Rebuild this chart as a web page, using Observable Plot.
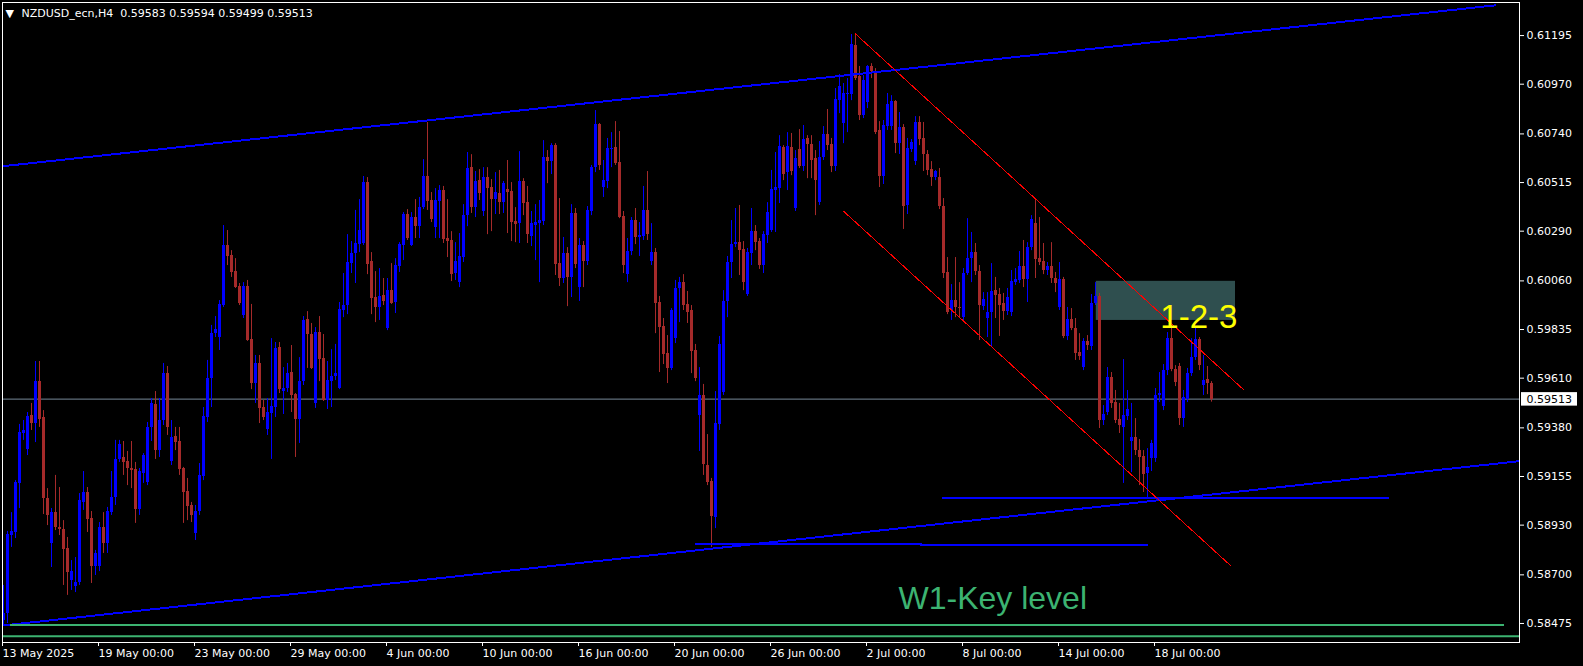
<!DOCTYPE html>
<html><head><meta charset="utf-8">
<script src="https://cdn.jsdelivr.net/npm/d3@7"></script>
<script src="https://cdn.jsdelivr.net/npm/@observablehq/plot@0.6"></script>
<style>
html,body{margin:0;padding:0;background:#000;}
#chart{width:1583px;height:666px;overflow:hidden;}
</style></head><body><div id="chart"></div>
<script>
const symbolTitle = "NZDUSD_ecn,H4  0.59583 0.59594 0.59499 0.59513";

const opens = [0.58489,0.58521,0.58882,0.58896,0.59123,0.59354,0.59280,0.59437,0.59400,0.59594,0.59428,0.59053,0.58845,0.58988,0.58919,0.58910,0.58822,0.58674,0.58646,0.58665,
0.59035,0.59081,0.58961,0.58739,0.58739,0.58919,0.58845,0.58988,0.59058,0.59234,0.59243,0.59224,0.59192,0.59187,0.59002,0.59169,0.59127,0.59382,0.59488,0.59275,
0.59414,0.59631,0.59224,0.59340,0.59317,0.59192,0.59086,0.59021,0.58891,0.58993,0.59155,0.59428,0.59608,0.59816,0.59798,0.59946,0.60224,0.60177,0.60103,0.60034,
0.59900,0.60034,0.59789,0.59585,0.59678,0.59474,0.59372,0.59446,0.59474,0.59752,0.59548,0.59562,0.59636,0.59534,0.59419,0.59594,0.59881,0.59812,0.59493,0.59821,
0.59701,0.59507,0.59594,0.59618,0.59562,0.59923,0.59946,0.60140,0.60187,0.60228,0.60233,0.60515,0.60150,0.59983,0.59937,0.59992,0.59840,0.60015,0.59960,0.60126,
0.60224,0.60367,0.60224,0.60353,0.60311,0.60399,0.60543,0.60432,0.60307,0.60427,0.60478,0.60256,0.60247,0.60094,0.60052,0.60168,0.60362,0.60584,0.60399,0.60524,
0.60381,0.60538,0.60492,0.60436,0.60464,0.60422,0.60483,0.60473,0.60335,0.60325,0.60520,0.60422,0.60265,0.60316,0.60325,0.60335,0.60631,0.60612,0.60686,0.60140,
0.60071,0.60187,0.60076,0.60372,0.60029,0.60224,0.60150,0.60381,0.60584,0.60783,0.60492,0.60520,0.60668,0.60677,0.60608,0.60358,0.60089,0.60196,0.60339,0.60261,
0.60265,0.60386,0.60150,0.60191,0.59960,0.59849,0.59724,0.59655,0.59793,0.60025,0.60052,0.59951,0.59923,0.59738,0.59437,0.59530,0.59206,0.59132,0.58965,0.59396,
0.59544,0.59965,0.60145,0.60228,0.60237,0.60205,0.59997,0.60187,0.60288,0.60242,0.60131,0.60270,0.60293,0.60478,0.60487,0.60677,0.60561,0.60677,0.60395,0.60668,
0.60589,0.60719,0.60691,0.60626,0.60422,0.60631,0.60737,0.60691,0.60589,0.60894,0.60788,0.60922,0.60922,0.61149,0.61005,0.60825,0.60885,0.61052,0.61024,0.60756,
0.60543,0.60774,0.60774,0.60890,0.60695,0.60769,0.60409,0.60668,0.60612,0.60793,0.60719,0.60645,0.60575,0.60538,0.60538,0.60404,0.60099,0.59923,0.59969,0.59937,
0.59890,0.60094,0.60163,0.60191,0.60103,0.59941,0.59886,0.59914,0.60015,0.59997,0.59955,0.59918,0.59914,0.60052,0.60062,0.60126,0.60066,0.60214,0.60325,0.60163,
0.60150,0.60108,0.60126,0.60071,0.59937,0.60066,0.59803,0.59881,0.59839,0.59729,0.59659,0.59780,0.59756,0.59955,0.59988,0.59414,0.59451,0.59613,0.59497,0.59419,
0.59382,0.59433,0.59317,0.59335,0.59275,0.59248,0.59169,0.59238,0.59238,0.59530,0.59479,0.59645,0.59793,0.59650,0.59664,0.59423,0.59511,0.59631,0.59705,0.59789,
0.59576,0.59604,0.59583];

const highs = [0.58651,0.58901,0.58988,0.59136,0.59396,0.59414,0.59451,0.59493,0.59687,0.59687,0.59460,0.59099,0.59007,0.59160,0.59104,0.58951,0.58873,0.58766,0.58780,0.59076,
0.59178,0.59104,0.58993,0.58813,0.58942,0.58988,0.59012,0.59178,0.59322,0.59322,0.59317,0.59271,0.59317,0.59220,0.59192,0.59261,0.59405,0.59516,0.59548,0.59516,
0.59678,0.59664,0.59414,0.59382,0.59382,0.59197,0.59146,0.59035,0.59021,0.59215,0.59474,0.59692,0.59854,0.59895,0.59969,0.60316,0.60293,0.60200,0.60163,0.60048,
0.60052,0.60062,0.59951,0.59715,0.59715,0.59507,0.59516,0.59793,0.59775,0.59775,0.59659,0.59678,0.59761,0.59539,0.59705,0.59895,0.59918,0.59863,0.59844,0.59895,
0.59812,0.59687,0.59742,0.59766,0.59960,0.60094,0.60274,0.60242,0.60386,0.60436,0.60543,0.60538,0.60191,0.60103,0.60117,0.60071,0.60071,0.60140,0.60163,0.60237,
0.60376,0.60390,0.60376,0.60436,0.60446,0.60621,0.60793,0.60469,0.60487,0.60501,0.60497,0.60436,0.60288,0.60237,0.60279,0.60413,0.60654,0.60644,0.60566,0.60575,
0.60584,0.60584,0.60529,0.60561,0.60571,0.60520,0.60617,0.60515,0.60399,0.60658,0.60533,0.60497,0.60381,0.60413,0.60432,0.60709,0.60663,0.60695,0.60695,0.60441,
0.60261,0.60214,0.60413,0.60395,0.60256,0.60242,0.60404,0.60594,0.60848,0.60788,0.60617,0.60719,0.60746,0.60797,0.60751,0.60381,0.60256,0.60353,0.60395,0.60330,
0.60497,0.60566,0.60325,0.60210,0.59988,0.59886,0.59807,0.59932,0.60062,0.60076,0.60089,0.60011,0.59946,0.59766,0.59659,0.59581,0.59349,0.59146,0.59548,0.59803,
0.60015,0.60173,0.60339,0.60395,0.60409,0.60242,0.60210,0.60395,0.60316,0.60256,0.60288,0.60422,0.60571,0.60654,0.60732,0.60686,0.60746,0.60742,0.60663,0.60760,
0.60779,0.60732,0.60732,0.60663,0.60705,0.60774,0.60853,0.60719,0.60950,0.61015,0.60973,0.60996,0.61200,0.61204,0.61052,0.61010,0.61056,0.61065,0.61042,0.60797,
0.60802,0.60927,0.60917,0.60894,0.60839,0.60783,0.60719,0.60714,0.60820,0.60820,0.60793,0.60663,0.60612,0.60571,0.60580,0.60441,0.60168,0.60043,0.60168,0.60052,
0.60117,0.60348,0.60284,0.60233,0.60131,0.60006,0.60006,0.60140,0.60076,0.60025,0.60002,0.60025,0.60108,0.60117,0.60196,0.60247,0.60237,0.60362,0.60432,0.60353,
0.60233,0.60145,0.60237,0.60099,0.60145,0.60076,0.59937,0.59932,0.59886,0.59816,0.59793,0.59807,0.59997,0.60052,0.60002,0.59483,0.59659,0.59636,0.59553,0.59493,
0.59696,0.59553,0.59493,0.59423,0.59326,0.59275,0.59284,0.59322,0.59562,0.59636,0.59673,0.59821,0.59854,0.59668,0.59678,0.59553,0.59655,0.59793,0.59844,0.59798,
0.59715,0.59664,0.59594];

const lows = [0.58466,0.58475,0.58827,0.58868,0.59007,0.59322,0.59252,0.59368,0.59312,0.59382,0.58979,0.58928,0.58734,0.58905,0.58882,0.58651,0.58605,0.58628,0.58618,0.58651,
0.58998,0.58896,0.58660,0.58697,0.58715,0.58799,0.58799,0.58975,0.59021,0.59220,0.59160,0.59113,0.59099,0.58938,0.58975,0.59123,0.59113,0.59317,0.59234,0.59243,
0.59391,0.59345,0.59206,0.59275,0.59160,0.58938,0.58951,0.58942,0.58859,0.58975,0.59136,0.59405,0.59474,0.59798,0.59738,0.59937,0.60131,0.60076,0.60025,0.59946,
0.59886,0.59780,0.59557,0.59493,0.59400,0.59414,0.59345,0.59234,0.59428,0.59539,0.59442,0.59544,0.59451,0.59243,0.59308,0.59576,0.59655,0.59650,0.59470,0.59594,
0.59502,0.59465,0.59474,0.59599,0.59557,0.59890,0.59904,0.60094,0.60048,0.60191,0.60224,0.60089,0.59904,0.59867,0.59877,0.59946,0.59830,0.59951,0.59909,0.60099,
0.60154,0.60247,0.60219,0.60256,0.60256,0.60390,0.60386,0.60330,0.60256,0.60256,0.60233,0.60168,0.60057,0.60062,0.60029,0.60145,0.60311,0.60372,0.60353,0.60432,
0.60358,0.60274,0.60288,0.60367,0.60367,0.60372,0.60279,0.60242,0.60237,0.60233,0.60362,0.60233,0.60219,0.60154,0.60052,0.60316,0.60510,0.60552,0.60085,0.60034,
0.60048,0.59941,0.59983,0.60117,0.59965,0.60029,0.60131,0.60362,0.60561,0.60571,0.60446,0.60487,0.60584,0.60594,0.60348,0.60094,0.60052,0.60177,0.60228,0.60173,
0.60247,0.60247,0.60131,0.59816,0.59636,0.59673,0.59585,0.59645,0.59770,0.59867,0.59923,0.59863,0.59631,0.59594,0.59271,0.59160,0.59113,0.58827,0.58914,0.59368,
0.59530,0.59890,0.60071,0.60214,0.60085,0.60015,0.59988,0.60131,0.60200,0.60113,0.60094,0.60233,0.60284,0.60284,0.60418,0.60524,0.60478,0.60547,0.60381,0.60580,
0.60566,0.60533,0.60533,0.60362,0.60409,0.60617,0.60663,0.60561,0.60566,0.60834,0.60695,0.60746,0.60894,0.60987,0.60802,0.60811,0.60857,0.60996,0.60737,0.60492,
0.60506,0.60756,0.60756,0.60649,0.60645,0.60298,0.60367,0.60654,0.60594,0.60686,0.60566,0.60547,0.60497,0.60524,0.60390,0.60071,0.59904,0.59877,0.59890,0.59890,
0.59877,0.60085,0.60052,0.60085,0.59784,0.59923,0.59798,0.59752,0.59886,0.59803,0.59877,0.59900,0.59895,0.60039,0.60048,0.60029,0.59960,0.60200,0.60071,0.60131,
0.60089,0.60085,0.60048,0.60006,0.59923,0.59793,0.59784,0.59830,0.59692,0.59692,0.59645,0.59738,0.59738,0.59946,0.59377,0.59391,0.59437,0.59470,0.59400,0.59354,
0.59123,0.59414,0.59173,0.59252,0.59113,0.59081,0.59058,0.59178,0.59220,0.59497,0.59460,0.59622,0.59640,0.59571,0.59391,0.59382,0.59497,0.59618,0.59692,0.59645,
0.59530,0.59534,0.59499];

const closes = [0.58521,0.58887,0.58901,0.59127,0.59358,0.59368,0.59433,0.59400,0.59594,0.59419,0.59053,0.58975,0.58988,0.58919,0.58910,0.58817,0.58711,0.58715,0.58665,0.59044,
0.59081,0.58956,0.58739,0.58799,0.58919,0.58845,0.58993,0.59058,0.59234,0.59303,0.59220,0.59192,0.59183,0.59002,0.59178,0.59252,0.59382,0.59493,0.59275,0.59414,
0.59631,0.59382,0.59335,0.59312,0.59187,0.59081,0.59016,0.58975,0.58993,0.59160,0.59433,0.59608,0.59816,0.59835,0.59951,0.60224,0.60173,0.60099,0.60029,0.59955,
0.60034,0.59784,0.59585,0.59678,0.59470,0.59428,0.59451,0.59479,0.59747,0.59557,0.59562,0.59631,0.59530,0.59419,0.59594,0.59877,0.59812,0.59655,0.59821,0.59696,
0.59507,0.59599,0.59618,0.59631,0.59928,0.59946,0.60145,0.60187,0.60233,0.60293,0.60515,0.60136,0.59978,0.59937,0.59988,0.59965,0.60015,0.59955,0.60131,0.60228,
0.60367,0.60256,0.60353,0.60311,0.60399,0.60543,0.60427,0.60344,0.60432,0.60478,0.60251,0.60242,0.60089,0.60150,0.60173,0.60362,0.60580,0.60399,0.60520,0.60464,
0.60538,0.60487,0.60436,0.60469,0.60422,0.60510,0.60469,0.60330,0.60321,0.60520,0.60418,0.60274,0.60325,0.60330,0.60339,0.60631,0.60612,0.60686,0.60136,0.60071,
0.60187,0.60076,0.60372,0.60136,0.60224,0.60150,0.60386,0.60584,0.60783,0.60594,0.60524,0.60672,0.60672,0.60603,0.60353,0.60131,0.60196,0.60339,0.60261,0.60270,
0.60386,0.60274,0.60191,0.59955,0.59844,0.59719,0.59655,0.59923,0.60025,0.60052,0.59946,0.59914,0.59733,0.59608,0.59530,0.59210,0.59127,0.58970,0.59400,0.59766,
0.59965,0.60145,0.60228,0.60237,0.60200,0.60052,0.60191,0.60288,0.60237,0.60131,0.60274,0.60376,0.60483,0.60492,0.60682,0.60552,0.60682,0.60566,0.60626,0.60589,
0.60714,0.60691,0.60617,0.60524,0.60631,0.60737,0.60686,0.60589,0.60899,0.60959,0.60927,0.60927,0.61153,0.60996,0.60825,0.60987,0.61052,0.61028,0.60746,0.60543,
0.60779,0.60876,0.60890,0.60695,0.60769,0.60404,0.60672,0.60700,0.60793,0.60714,0.60645,0.60571,0.60538,0.60566,0.60404,0.60094,0.59914,0.59969,0.59937,0.59932,
0.60094,0.60163,0.60191,0.60103,0.59946,0.59974,0.59914,0.60011,0.59992,0.59946,0.59918,0.59983,0.60057,0.60066,0.60126,0.60066,0.60214,0.60344,0.60159,0.60145,
0.60108,0.60126,0.60071,0.60048,0.60066,0.59803,0.59881,0.59839,0.59724,0.59710,0.59780,0.59761,0.59955,0.59988,0.59414,0.59442,0.59613,0.59493,0.59414,0.59391,
0.59437,0.59465,0.59335,0.59275,0.59243,0.59164,0.59197,0.59308,0.59530,0.59539,0.59645,0.59793,0.59650,0.59590,0.59423,0.59521,0.59631,0.59705,0.59789,0.59668,
0.59599,0.59585,0.59513];

const priceTicks = [0.61195,0.60970,0.60740,0.60515,0.60290,0.60060,0.59835,0.59610,0.59380,0.59155,0.58930,0.58700,0.58475];
const dateTickBars = [0,24,48,72,96,120,144,168,192,216,240,264,288];
const dateTickLabels = ["13 May 2025","19 May 00:00","23 May 00:00","29 May 00:00","4 Jun 00:00","10 Jun 00:00","16 Jun 00:00","20 Jun 00:00","26 Jun 00:00","2 Jul 00:00","8 Jul 00:00","14 Jul 00:00","18 Jul 00:00"];

// drawn objects (bar index, price)
const channelUpper = [{bar:0, price:0.60591},{bar:373, price:0.61335}];
const channelLower = [{bar:0, price:0.58466},{bar:379, price:0.59226}];
const redUpper = [{bar:213, price:0.61203},{bar:310, price:0.59557}];
const redLower = [{bar:210.1, price:0.60381},{bar:306.75, price:0.58743}];
const blueLevelA1 = [{bar:173, price:0.58843},{bar:229.4, price:0.58843}];
const blueLevelA2 = [{bar:229.4, price:0.58837},{bar:286, price:0.58837}];
const blueLevelB = [{bar:234.75, price:0.59055},{bar:346.25, price:0.59055}];
const keyLevel = [{bar:1.75, price:0.58466},{bar:375, price:0.58466}];
const weeklyLine = [0.58416];
const zones = [{bar1:273.2, bar2:308, top:0.60058, bottom:0.59877}];
const labels123 = [{bar:289.2, price:0.59843, text:"1-2-3"}];
const labelsKey = [{bar:223.75, price:0.58540, text:"W1-Key level"}];

const bars = d3.range(closes.length).map(i => ({bar:i, open:opens[i], high:highs[i], low:lows[i], close:closes[i]}));
const bulls = bars.filter(d => d.close >= d.open);
const bears = bars.filter(d => d.close < d.open);
const lastClose = closes[closes.length - 1];
const BULL = "#0000ff", BEAR = "#a52a2a";

const chart = Plot.plot({
  width: 1583, height: 666,
  marginLeft: 2, marginRight: 64, marginTop: 2, marginBottom: 24,
  x: {domain: [-0.25, 379], axis: null},
  y: {domain: [0.58387, 0.61348], axis: null},
  style: {background: "#000", color: "#fff", fontFamily: "DejaVu Sans", fontSize: "11px"},
  marks: [
    Plot.rect(zones, {x1:"bar1", x2:"bar2", y1:"bottom", y2:"top", fill:"#2F4F4F"}),
    Plot.ruleY([lastClose], {stroke:"#778899", strokeWidth:1}),
    Plot.ruleX(bulls, {x:"bar", y1:"low", y2:"high", stroke:BULL, strokeWidth:1}),
    Plot.ruleX(bulls, {x:"bar", y1:"open", y2:"close", stroke:BULL, strokeWidth:3, shapeRendering:"crispEdges"}),
    Plot.ruleX(bears, {x:"bar", y1:"low", y2:"high", stroke:BEAR, strokeWidth:1}),
    Plot.ruleX(bears, {x:"bar", y1:"open", y2:"close", stroke:BEAR, strokeWidth:3, shapeRendering:"crispEdges"}),
    Plot.line(channelUpper, {x:"bar", y:"price", stroke:BULL, strokeWidth:2, clip:true, shapeRendering:"crispEdges"}),
    Plot.line(channelLower, {x:"bar", y:"price", stroke:BULL, strokeWidth:2, clip:true, shapeRendering:"crispEdges"}),
    Plot.line(blueLevelA1, {x:"bar", y:"price", stroke:BULL, strokeWidth:2, clip:true, shapeRendering:"crispEdges"}),
    Plot.line(blueLevelA2, {x:"bar", y:"price", stroke:BULL, strokeWidth:2, clip:true, shapeRendering:"crispEdges"}),
    Plot.line(blueLevelB, {x:"bar", y:"price", stroke:BULL, strokeWidth:2, clip:true, shapeRendering:"crispEdges"}),
    Plot.line(redUpper, {x:"bar", y:"price", stroke:"#ff0000", strokeWidth:1, clip:true, shapeRendering:"crispEdges"}),
    Plot.line(redLower, {x:"bar", y:"price", stroke:"#ff0000", strokeWidth:1, clip:true, shapeRendering:"crispEdges"}),
    Plot.line(keyLevel, {x:"bar", y:"price", stroke:"#3CB371", strokeWidth:2, clip:true, shapeRendering:"crispEdges"}),
    Plot.ruleY(weeklyLine, {stroke:"#3CB371", strokeWidth:2}),
    Plot.text(labels123, {x:"bar", y:"price", text:"text", fill:"#ffff00", fontSize:33, fontFamily:"Liberation Sans", textAnchor:"start", lineAnchor:"bottom"}),
    Plot.text(labelsKey, {x:"bar", y:"price", text:"text", fill:"#3CB371", fontSize:32, fontFamily:"Liberation Sans", textAnchor:"start", lineAnchor:"bottom"}),
    Plot.text(["\u25BC"], {frameAnchor:"top-left", dx:3, dy:14, text:d=>d, fill:"#fff", fontSize:11, textAnchor:"start", lineAnchor:"bottom"}),
    Plot.text([symbolTitle], {frameAnchor:"top-left", dx:19, dy:14, text:d=>d, fill:"#fff", fontSize:11, textAnchor:"start", lineAnchor:"bottom"}),
    Plot.axisY(priceTicks, {anchor:"right", tickSize:4, tickPadding:3, tickFormat:d=>d.toFixed(5), label:null, fontSize:11}),
    Plot.axisX(dateTickBars, {anchor:"bottom", tickSize:4, tickPadding:3, textAnchor:"start", dx:-1, label:null, fontSize:11,
      tickFormat:d=>dateTickLabels[dateTickBars.indexOf(d)]}),
    Plot.text([lastClose], {y:d=>d, text:d=>d.toFixed(5), frameAnchor:"right", dx:7, textAnchor:"start", fill:"#000", fontSize:11}),
    Plot.frame({stroke:"#fff"})
  ]
});
document.getElementById("chart").append(chart);

// white box behind the current price label
const cy = chart.scale("y").apply(lastClose);
const xr = chart.scale("x").range;
const lab = lastClose.toFixed(5);
const grp = [...chart.querySelectorAll('g[aria-label="text"]')].find(g => g.textContent.trim() === lab && g.getAttribute("fill") === "#000");
const ns = "http://www.w3.org/2000/svg";
const box = document.createElementNS(ns, "rect");
box.setAttribute("x", Math.max(xr[0], xr[1]) + 2);
box.setAttribute("y", cy - 6.5);
box.setAttribute("width", 56);
box.setAttribute("height", 13.5);
box.setAttribute("fill", "#fff");
if (grp) grp.parentNode.insertBefore(box, grp);
</script>
</body></html>
